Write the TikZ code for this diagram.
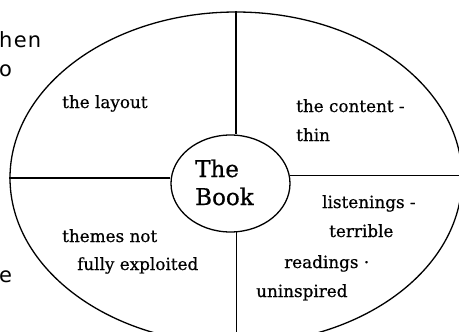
\documentclass[tikz,border=0pt]{standalone}
\usepackage{fontspec}
\setmainfont[FakeBold=0.6]{DejaVu Serif}
\newfontfamily\sidefont[LetterSpace=6]{DejaVu Sans}
\usetikzlibrary{shapes.geometric}
\tikzstyle{ring} = [draw, ellipse, line width=1.3pt, inner sep=0pt]
\tikzstyle{spoke} = [line width=1.3pt]
\tikzstyle{note} = [anchor=base west, inner sep=0pt, font=\fontsize{16.8}{20}\selectfont]
\tikzstyle{side} = [anchor=base west, inner sep=0pt, font=\sidefont\fontsize{21}{25}\selectfont]

\begin{document}
\begin{tikzpicture}[x=1pt, y=-1pt]
	\useasboundingbox (0,0) rectangle (459,332);
	\clip (0,0) rectangle (459,332);
	% text cut off at the left margin
	\node[side] (hen) at (-1,48) {hen};
	\node[side] (o) at (-1,77) {o};
	\node[side] (e) at (-1,282) {e};
	% the two rings
	\node[ring, minimum width=452pt, minimum height=332pt] (outer) at (236,178) {};
	\node[ring, minimum width=119pt, minimum height=97pt] (book) at (230.5,183.5) {};
	\node[anchor=base west, inner sep=0pt, font=\fontsize{23}{27}\selectfont] (the) at (195,177) {The};
	\node[anchor=base west, inner sep=0pt, font=\fontsize{23}{27}\selectfont] (bk) at (195,205) {Book};
	% spokes
	\draw[spoke] (outer.north) -- (outer.north |- book.north);
	\draw[spoke] (outer.west) -- (outer.west -| book.west);
	\draw[spoke] (book.8) -- (book.8 -| outer.east);
	\draw[spoke] (book.-83) -- (book.-83 |- outer.south);
	% quarters
	\node[note] (layout) at (62,108) {the layout};
	\node[note] (content) at (296,112) {the content -};
	\node[note] (thin) at (296,141) {thin};
	\node[note] (listen) at (322,208) {listenings -};
	\node[note] (terrible) at (329,237) {terrible};
	\node[note] (readings) at (284,268) {readings ·};
	\node[note] (uninsp) at (256,297) {uninspired};
	\node[note] (themes) at (62,242) {themes not};
	\node[note] (fully) at (77,270) {fully exploited};
\end{tikzpicture}
\end{document}
